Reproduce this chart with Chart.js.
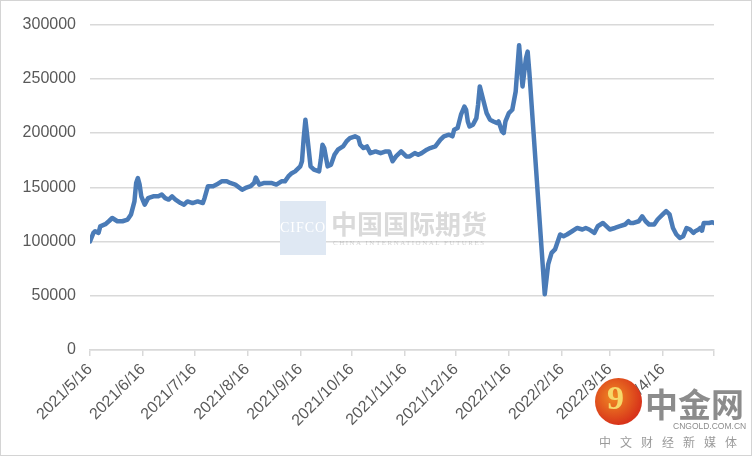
<!DOCTYPE html>
<html>
<head>
<meta charset="utf-8">
<script src="https://cdn.jsdelivr.net/npm/chart.js@4.4.0/dist/chart.umd.min.js"></script>
<style>
  html, body { margin: 0; padding: 0; background: #fff; }
  #wrap { position: relative; width: 752px; height: 456px; box-sizing: border-box; border: 1px solid #d4d4d4; overflow: hidden; }
  #chart { position: absolute; left: 0; top: 0; }
  .mark { position: absolute; white-space: nowrap; }
</style>
</head>
<body>
<div id="wrap">
  <canvas id="chart" width="752" height="456"></canvas>
  <!-- 水印 -->
  <div class="mark" style="left:279px;top:200px;width:46px;height:54px;background:#dfe8f3;"></div>
  <div class="mark" style="left:279px;top:219px;font:14px 'Liberation Serif';color:#fff;letter-spacing:1px;">CIFCO</div>
  <div class="mark" style="left:330px;top:203px;font:bold 26px 'Noto Sans CJK SC';color:rgba(150,150,150,0.35);">中国国际期货</div>
  <div class="mark" style="left:332px;top:238px;font:7px 'Liberation Serif';color:rgba(150,150,150,0.4);letter-spacing:1.5px;">CHINA INTERNATIONAL FUTURES</div>
  <div class="mark" style="left:594px;top:377px;width:47px;height:47px;border-radius:50%;background:radial-gradient(circle at 40% 40%, #f08a24, #d8341a 70%);"></div>
  <div class="mark" style="left:606px;top:378px;font:bold 34px 'Liberation Serif';color:#f6d86a;">9</div>
  <div class="mark" style="left:644px;top:378px;font:bold 33px 'Noto Sans CJK SC';color:#8c8c8c;">中金网</div>
  <div class="mark" style="left:672px;top:420px;font:8.5px 'Liberation Sans';color:#8c8c8c;">CNGOLD.COM.CN</div>
  <div class="mark" style="left:598px;top:432px;font:12px 'Noto Sans CJK SC';color:#9a9a9a;letter-spacing:9px;">中文财经新媒体</div>
</div>
<script>
// 横轴刻度（距 2021/5/16 的天数）
const tickDays = [0, 31, 61, 92, 123, 153, 184, 214, 245, 276, 304, 335, 365];
const tickLabels = ['2021/5/16', '2021/6/16', '2021/7/16', '2021/8/16', '2021/9/16', '2021/10/16',
    '2021/11/16', '2021/12/16', '2022/1/16', '2022/2/16', '2022/3/16', '2022/4/16', ''];

// 纵轴刻度
const yMin = 0;
const yMax = 300000;
const yStep = 50000;

// 数据：天数 + 数值
const days = [0, 2, 3, 5, 6, 9, 11, 13, 16, 19, 22, 24, 26, 27, 28, 29, 30, 32, 34, 37, 40, 42, 44, 46, 48, 50,
    53, 55, 57, 60, 63, 66, 67, 69, 72, 74, 77, 80, 82, 85, 89, 91, 94, 96, 97, 99, 102, 106, 109, 112, 114,
    116, 118, 120, 123, 124, 125, 126, 127, 129, 131, 134, 135, 136, 137, 139, 141, 143, 145, 148, 150, 152,
    155, 157, 158, 160, 162, 164, 167, 170, 173, 175, 177, 179, 182, 185, 187, 190, 192, 194, 197, 199, 202,
    205, 207, 210, 212, 213, 215, 217, 219, 220, 221, 222, 224, 226, 227, 228, 230, 232, 234, 236, 238, 239,
    241, 242, 243, 245, 247, 249, 250, 251, 252, 253, 255, 256, 257, 266, 268, 270, 272, 274, 275, 277, 279,
    282, 285, 288, 290, 292, 295, 297, 300, 302, 304, 307, 310, 313, 315, 316, 318, 321, 323, 325, 327, 330,
    332, 335, 337, 339, 341, 343, 345, 347, 349, 351, 353, 354, 356, 357, 358, 359, 362, 364, 365];
const values = [100000, 108000, 109500, 108000, 114000, 116000, 118700, 121700, 118700, 118700, 120300, 125000,
    137000, 154000, 158500, 152700, 141700, 134000, 140000, 141700, 141700, 143300, 140000, 138700, 141700,
    138700, 135500, 134000, 137000, 135500, 137000, 135500, 140000, 151000, 151000, 152500, 155500, 155500,
    154000, 152500, 147800, 149400, 151000, 154000, 159000, 152500, 154000, 154000, 152500, 155500, 155500,
    160000, 163000, 164700, 169300, 174000, 195400, 212300, 198500, 169300, 166300, 164700, 175500, 189300,
    186200, 169300, 170900, 180000, 184700, 187700, 192300, 195400, 197000, 195400, 189300, 186200, 187700,
    181500, 183100, 181500, 183100, 183100, 174000, 178500, 183100, 178500, 178500, 181500, 180000, 181500,
    184700, 186200, 187700, 193900, 197000, 198500, 197000, 203000, 204600, 216900, 224500, 221500, 210700,
    206100, 207700, 213800, 226100, 243000, 230700, 218400, 212300, 210700, 209200, 210700, 201500, 200000,
    210700, 218400, 221500, 238300, 259800, 281000, 262000, 243000, 269000, 275100, 256000, 51300, 78900,
    89500, 92700, 101900, 106500, 104900, 106500, 109500, 112500, 111100, 112500, 111100, 107900, 114100,
    117100, 114100, 111100, 112500, 114100, 115700, 118700, 117100, 117100, 118700, 123300, 118700, 115700,
    115700, 120300, 125000, 128000, 125000, 112500, 106500, 103300, 104900, 112500, 111100, 107900, 109500,
    111100, 112500, 110000, 117100, 117100, 117800, 117100];

const axisFont = { family: "'Liberation Sans', Arial, sans-serif", size: 16 };
const textColor = '#595959';
const gridColor = '#d9d9d9';

const points = days.map((d, i) => ({ x: d, y: values[i] }));

const ctx = document.getElementById('chart').getContext('2d');
const chart = new Chart(ctx, {
    type: 'line',
    data: {
        datasets: [{
            data: points,
            borderColor: '#4a7bb7',
            borderWidth: 4.5,
            pointRadius: 0,
            tension: 0,
            borderJoinStyle: 'round',
            borderCapStyle: 'round',
            fill: false
        }]
    },
    options: {
        responsive: false,
        animation: false,
        layout: { padding: { top: 23, right: 39, left: 0, bottom: 0 } },
        plugins: { legend: { display: false }, tooltip: { enabled: false } },
        scales: {
            x: {
                type: 'linear',
                min: 0,
                max: 365,
                afterBuildTicks: function(scale) {
                    scale.ticks = tickDays.map(v => ({ value: v }));
                },
                afterFit: function(scale) {
                    scale.height = 107;
                },
                ticks: {
                    autoSkip: false,
                    minRotation: 45,
                    maxRotation: 45,
                    padding: 4,
                    color: textColor,
                    font: axisFont,
                    callback: function(v) {
                        const i = tickDays.indexOf(v);
                        return i >= 0 ? tickLabels[i] : '';
                    }
                },
                grid: { drawOnChartArea: false, tickLength: 6, color: gridColor, lineWidth: 1.5 },
                border: { display: true, color: gridColor, width: 1.5 }
            },
            y: {
                min: yMin,
                max: yMax,
                afterFit: function(scale) {
                    scale.width = 89;
                },
                ticks: {
                    stepSize: yStep,
                    padding: 14,
                    color: textColor,
                    font: axisFont,
                    callback: function(v) {
                        return String(v);
                    }
                },
                grid: { color: gridColor, lineWidth: 1.5, drawTicks: false },
                border: { display: false }
            }
        }
    }
});
</script>
</body>
</html>
